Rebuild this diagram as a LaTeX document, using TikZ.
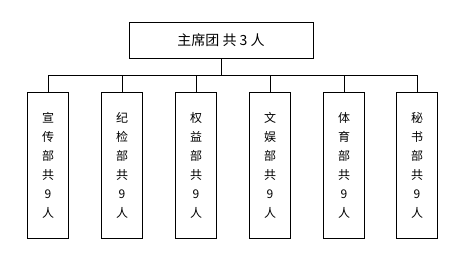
\documentclass[tikz,border=0pt]{standalone}
\usepackage{fontspec}
\setmainfont{Noto Sans CJK SC}
\usepackage{tikz}
\usetikzlibrary{positioning}
\tikzstyle{headbox} = [draw=black, line width=0.75pt, minimum width=138pt, minimum height=27pt, font=\fontsize{10.5}{12}\selectfont, inner sep=0pt]
\tikzstyle{deptbox} = [draw=black, line width=0.75pt, minimum width=30.5pt, minimum height=110pt, align=center, font=\fontsize{9}{14.3}\selectfont, inner sep=0pt]
\tikzstyle{link} = [line width=0.75pt]

\begin{document}
\begin{tikzpicture}[x=0.75pt, y=-0.75pt]
\useasboundingbox (0,0) rectangle (467,276);

\node[headbox] (head) at (221,40) {主席团 共 3 人};

\coordinate (bus) at (221,75);

\node[deptbox] (d1) at (48,165.5)  {宣\\传\\部\\共\\9\\人};
\node[deptbox] (d2) at (122,165.5) {纪\\检\\部\\共\\9\\人};
\node[deptbox] (d3) at (196,165.5) {权\\益\\部\\共\\9\\人};
\node[deptbox] (d4) at (270,165.5) {文\\娱\\部\\共\\9\\人};
\node[deptbox] (d5) at (344,165.5) {体\\育\\部\\共\\9\\人};
\node[deptbox] (d6) at (417,165.5) {秘\\书\\部\\共\\9\\人};

% connectors
\foreach \d in {d1,d2,d3,d4,d5,d6}
  \draw[link] (head.south) -- (bus) -| (\d.north);

\end{tikzpicture}
\end{document}
